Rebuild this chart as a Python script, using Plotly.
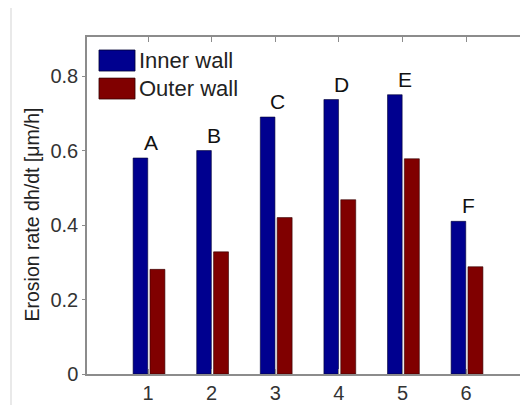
import plotly.graph_objects as go

categories = [1, 2, 3, 4, 5, 6]
inner_wall = [0.58, 0.60, 0.69, 0.737, 0.75, 0.41]
outer_wall = [0.281, 0.328, 0.42, 0.468, 0.578, 0.288]
bar_labels = ["A", "B", "C", "D", "E", "F"]
y_ticks = [0, 0.2, 0.4, 0.6, 0.8]
y_tick_text = ["0", "0.2", "0.4", "0.6", "0.8"]

BLUE = "#00008f"
RED = "#800000"
FONT = "Liberation Sans, Arial, sans-serif"
TXT = "#333333"

fig = go.Figure()
fig.add_trace(go.Bar(x=categories, y=inner_wall, name="Inner wall", width=0.23, offset=-0.235,
                     marker=dict(color=BLUE, line=dict(color="#000033", width=0.6)), showlegend=False))
fig.add_trace(go.Bar(x=categories, y=outer_wall, name="Outer wall", width=0.235, offset=0.03,
                     marker=dict(color=RED, line=dict(color="#330000", width=0.6)), showlegend=False))

for c, v, t in zip(categories, inner_wall, bar_labels):
    fig.add_annotation(x=c + 0.04, y=v, text=t, showarrow=False, yanchor="bottom", yshift=2,
                       font=dict(family=FONT, size=21, color="#111111"))

# legend (custom, large swatches)
fig.add_shape(type="rect", xref="paper", yref="paper", x0=0.0277, x1=0.1109, y0=0.899, y1=0.9614,
              fillcolor=BLUE, line=dict(color="#000033", width=0.8))
fig.add_shape(type="rect", xref="paper", yref="paper", x0=0.0277, x1=0.1109, y0=0.816, y1=0.878,
              fillcolor=RED, line=dict(color="#330000", width=0.8))
fig.add_annotation(xref="paper", yref="paper", x=0.1150, y=0.930, text="Inner wall", showarrow=False,
                   xanchor="left", yanchor="middle", font=dict(family=FONT, size=22, color="#222222"))
fig.add_annotation(xref="paper", yref="paper", x=0.1150, y=0.847, text="Outer wall", showarrow=False,
                   xanchor="left", yanchor="middle", font=dict(family=FONT, size=22, color="#222222"))

# y-axis label
fig.add_annotation(xref="paper", yref="paper", x=-0.1293, y=0.50, yshift=-9,
                   text="Erosion rate dh/dt [μm/h]",
                   textangle=-90, showarrow=False, xanchor="center", yanchor="middle",
                   font=dict(family=FONT, size=19.5, color="#222222"))

# faint figure border line at left
fig.add_shape(type="line", xref="paper", yref="paper", x0=-0.1755, x1=-0.1755, y0=-0.12, y1=1.092,
              line=dict(color="#e2e2e2", width=1.5))

fig.update_layout(
    width=512, height=397,
    margin=dict(l=79, r=0, t=29, b=31),
    paper_bgcolor="#ffffff", plot_bgcolor="#ffffff",
    barmode="overlay",
    xaxis=dict(range=[0.04, 6.848], tickvals=categories, ticktext=[str(c) for c in categories],
               showgrid=False, zeroline=False, showline=True, linecolor="#8c8c8c", linewidth=1.5,
               mirror="ticks", ticks="inside", ticklen=5, tickcolor="#8c8c8c",
               tickfont=dict(family=FONT, size=20, color=TXT)),
    yaxis=dict(range=[0, 0.905], tickvals=y_ticks, ticktext=y_tick_text,
               showgrid=False, zeroline=False, showline=True, linecolor="#8c8c8c", linewidth=1.5,
               ticks="outside", ticklen=3, tickcolor="#8c8c8c",
               tickfont=dict(family=FONT, size=20, color=TXT)),
)

fig.write_html("out.html")
